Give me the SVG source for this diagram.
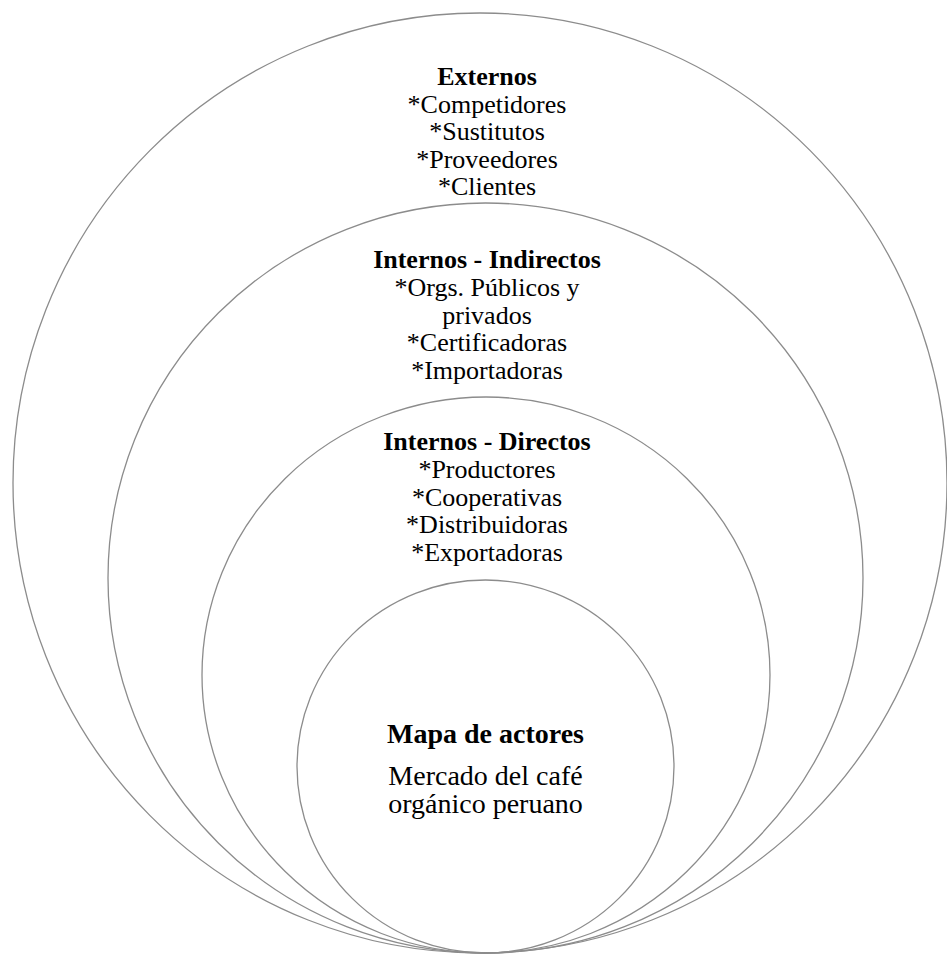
<svg xmlns="http://www.w3.org/2000/svg" width="947" height="956" viewBox="0 0 947 956">
<style>
.ring{fill:none;stroke:#8c8c8c;stroke-width:1.3}
text{font-family:"Liberation Serif","Times New Roman",serif;fill:#000;text-anchor:middle}
.t{font-size:26px}
.b{font-weight:bold}
.c{font-size:28px}
</style>
<rect width="947" height="956" fill="#fff"/>
<g id="externos">
<ellipse class="ring" cx="480" cy="483" rx="467" ry="470"/>
<text class="t b" x="487" y="85">Externos</text>
<text class="t" x="487" y="112.5">*Competidores</text>
<text class="t" x="487" y="140">*Sustitutos</text>
<text class="t" x="487" y="167.5">*Proveedores</text>
<text class="t" x="487" y="195">*Clientes</text>
</g>
<g id="internos-indirectos">
<ellipse class="ring" cx="485.5" cy="578" rx="377.5" ry="375"/>
<text class="t b" x="487" y="268">Internos - Indirectos</text>
<text class="t" x="487" y="296">*Orgs. Públicos y</text>
<text class="t" x="487" y="323.5">privados</text>
<text class="t" x="487" y="351">*Certificadoras</text>
<text class="t" x="487" y="378.5">*Importadoras</text>
</g>
<g id="internos-directos">
<ellipse class="ring" cx="486" cy="675" rx="284" ry="278"/>
<text class="t b" x="487" y="450">Internos - Directos</text>
<text class="t" x="487" y="478">*Productores</text>
<text class="t" x="487" y="505.5">*Cooperativas</text>
<text class="t" x="487" y="533">*Distribuidoras</text>
<text class="t" x="487" y="560.5">*Exportadoras</text>
</g>
<g id="mapa">
<ellipse class="ring" cx="485.5" cy="766.5" rx="188.5" ry="186.5"/>
<text class="c b" x="485.5" y="743">Mapa de actores</text>
<text class="c" x="485.5" y="785">Mercado del café</text>
<text class="c" x="485.5" y="813">orgánico peruano</text>
</g>
<g id="connectors"/>
</svg>
